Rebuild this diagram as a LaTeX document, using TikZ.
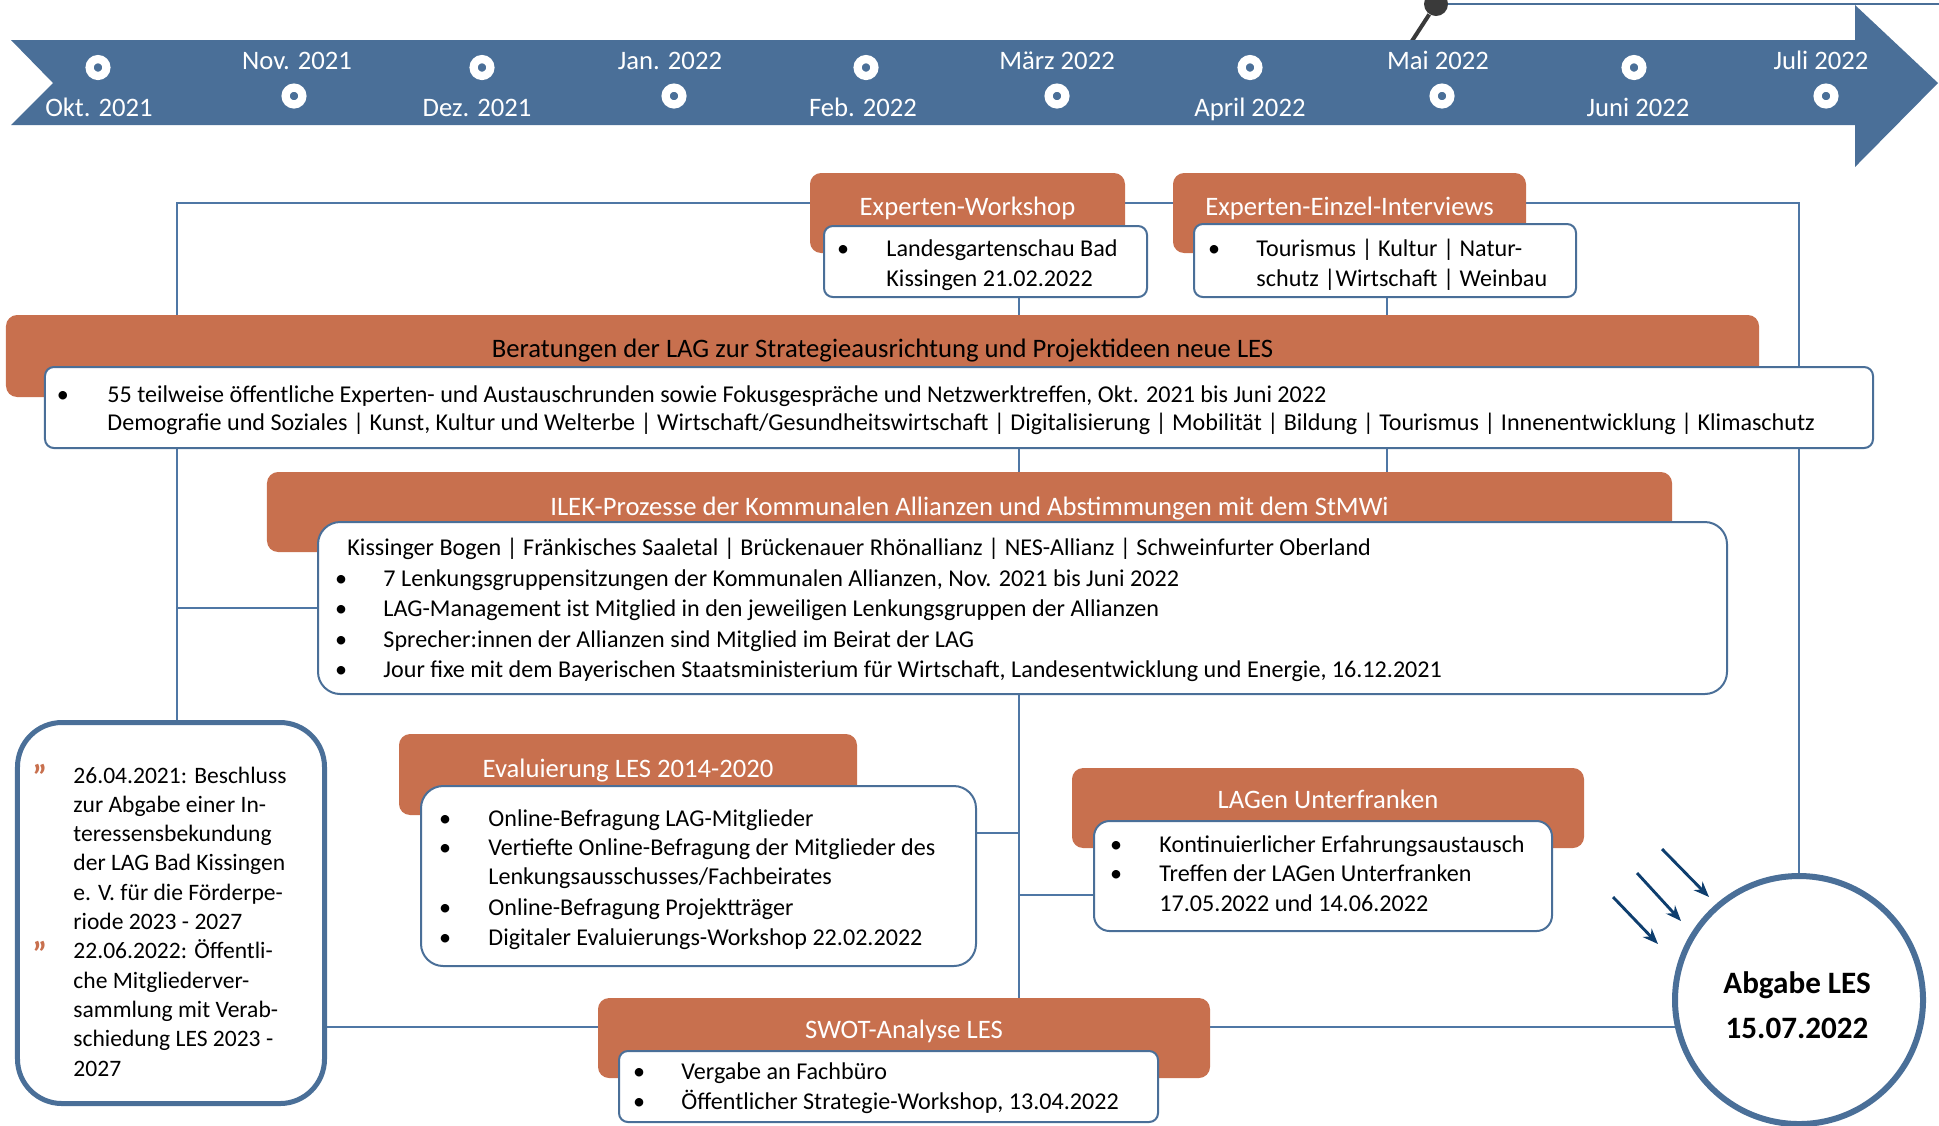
\documentclass[tikz,border=0pt]{standalone}
\usepackage{fontspec}
\setmainfont{Carlito}
\usetikzlibrary{arrows.meta}
\definecolor{band}{HTML}{4A6F98}
\definecolor{orng}{HTML}{C8704E}
\definecolor{lnk}{HTML}{4F77A5}
\definecolor{arr}{HTML}{0E3E6E}
\definecolor{pincol}{HTML}{3A3A3A}
\begin{document}
\begin{tikzpicture}[x=0.45pt,y=-0.45pt,
  obox/.style={fill=orng, rounded corners=5pt, inner sep=0pt, outer sep=0pt},
  wbox/.style={fill=white, draw=band, line width=0.9pt, rounded corners=4pt, inner sep=0pt, outer sep=0pt},
  conn/.style={draw=lnk, line width=0.65pt},
  ttl/.style={font=\fontsize{12}{14}\selectfont, text=white, inner sep=0pt, anchor=base},
  txt/.style={font=\fontsize{10.85}{13}\selectfont, inner sep=0pt, anchor=base west},
  ltxt/.style={font=\fontsize{10.6}{13}\selectfont, inner sep=0pt, anchor=base west},
  bul/.style={font=\fontsize{10.85}{13}\selectfont, inner sep=0pt, anchor=base},
  tlab/.style={font=\fontsize{12}{14}\selectfont, text=white, inner sep=0pt, anchor=base},
  mk/.style={circle, fill=band, draw=white, line width=3.7pt, minimum size=7.56pt, inner sep=0pt},
  qm/.style={font=\fontsize{15}{15}\selectfont\bfseries, text=orng, inner sep=0pt, anchor=base},
  arrw/.style={draw=arr, line width=1.3pt, -{Stealth[length=7pt,width=5.5pt]}}
]
\useasboundingbox (0,0) rectangle (1939,1125);

% ---------- pin at top right ----------
\coordinate (pinfoot) at (1410,44);
\coordinate (topend) at (1939,4);
\node[circle, fill=pincol, minimum size=10.8pt, inner sep=0pt] (pin) at (1436,4) {};
\draw[draw=band, line width=0.9pt] (pin) -- (topend);
\draw[draw=pincol, line width=1.8pt] (pinfoot) -- (pin);

% ---------- timeline band ----------
\fill[band] (11,40) -- (1855,40) -- (1855,5) -- (1938,83) -- (1855,167) -- (1855,125) -- (11,125) -- (53,83) -- cycle;

\node[mk] (m1) at (98,67.5) {};
\node[mk] (m2) at (294,96) {};
\node[mk] (m3) at (482,67.5) {};
\node[mk] (m4) at (674,96) {};
\node[mk] (m5) at (866,67.5) {};
\node[mk] (m6) at (1057,96) {};
\node[mk] (m7) at (1250,67.5) {};
\node[mk] (m8) at (1442,96) {};
\node[mk] (m9) at (1634,67.5) {};
\node[mk] (m10) at (1826,96) {};

\node[tlab] (l1) at (99,116.5) {Okt. 2021};
\node[tlab] (l2) at (297,69.5) {Nov. 2021};
\node[tlab] (l3) at (477,116.5) {Dez. 2021};
\node[tlab] (l4) at (670,69.5) {Jan. 2022};
\node[tlab] (l5) at (863,116.5) {Feb. 2022};
\node[tlab] (l6) at (1057,69.5) {März 2022};
\node[tlab] (l7) at (1250,116.5) {April 2022};
\node[tlab] (l8) at (1438,69.5) {Mai 2022};
\node[tlab] (l9) at (1638,116.5) {Juni 2022};
\node[tlab] (l10) at (1821,69.5) {Juli 2022};

% ---------- helper coordinates ----------
\coordinate (lv) at (177,203);
\coordinate (rv) at (1799,203);
\coordinate (mx) at (1019,0);
\coordinate (rx) at (1387,0);
\coordinate (ey) at (0,833);
\coordinate (ly) at (0,895);
\coordinate (sy) at (0,1027);

% invisible placement first so that connectors can use names
\path
  (967.5,213) node[obox, fill=none, minimum width=141.75pt, minimum height=36pt] (wsO) {}
  (985.5,261.5) node[wbox, draw=none, fill=none, minimum width=145.35pt, minimum height=31.95pt] (wsW) {}
  (1349.5,213) node[obox, fill=none, minimum width=158.85pt, minimum height=36pt] (ivO) {}
  (1385,260.5) node[wbox, draw=none, fill=none, minimum width=171.9pt, minimum height=32.85pt] (ivW) {}
  (882.5,356) node[obox, fill=none, minimum width=788.85pt, minimum height=36.9pt] (berO) {}
  (959,407.5) node[wbox, draw=none, fill=none, minimum width=822.6pt, minimum height=36.45pt] (berW) {}
  (969.5,512) node[obox, fill=none, minimum width=632.25pt, minimum height=36pt] (ilekO) {}
  (1022.5,608) node[wbox, draw=none, fill=none, minimum width=634.05pt, minimum height=77.4pt] (ilekW) {}
  (628,774.5) node[obox, fill=none, minimum width=206.1pt, minimum height=36.45pt] (evO) {}
  (698.5,876) node[wbox, draw=none, fill=none, minimum width=249.75pt, minimum height=81pt] (evW) {}
  (904,1038) node[obox, fill=none, minimum width=275.4pt, minimum height=36pt] (swO) {}
  (888.5,1086.5) node[wbox, draw=none, fill=none, minimum width=242.55pt, minimum height=31.95pt] (swW) {}
  (1328,808) node[obox, fill=none, minimum width=230.4pt, minimum height=36pt] (laO) {}
  (1323,876) node[wbox, draw=none, fill=none, minimum width=206.1pt, minimum height=49.5pt] (laW) {}
  (171,913) node[inner sep=0pt, outer sep=0pt, minimum width=138.15pt, minimum height=171.45pt] (lbox) {}
  (1799,1000) node[circle, inner sep=0pt, outer sep=0pt, minimum size=111.6pt] (circ) {};

% ---------- connectors ----------
\draw[conn] (lbox.north -| lv) -- (lv) -- (rv) -- (circ.center);
\draw[conn] (wsW.south -| mx) -- (swO.north -| mx);
\draw[conn] (ivW.south -| rx) -- (ilekO.north -| rx);
\draw[conn] (ilekW.west -| lv) -- (ilekW.west);
\draw[conn] (evW.east |- ey) -- (mx |- ey);
\draw[conn] (mx |- ly) -- (laW.west |- ly);
\draw[conn] (lbox.east |- sy) -- (swO.west |- sy);
\draw[conn] (swO.east |- sy) -- (circ.center |- sy);

% ---------- drawn boxes ----------
\node[obox, minimum width=141.75pt, minimum height=36pt] (wsOf) at (wsO) {};
\node[obox, minimum width=158.85pt, minimum height=36pt] (ivOf) at (ivO) {};
\node[obox, minimum width=788.85pt, minimum height=36.9pt] (berOf) at (berO) {};
\node[obox, minimum width=632.25pt, minimum height=36pt] (ilekOf) at (ilekO) {};
\node[obox, minimum width=206.1pt, minimum height=36.45pt] (evOf) at (evO) {};
\node[obox, minimum width=275.4pt, minimum height=36pt] (swOf) at (swO) {};
\node[obox, minimum width=230.4pt, minimum height=36pt] (laOf) at (laO) {};

\node[wbox, minimum width=145.35pt, minimum height=31.95pt] (wsWf) at (wsW) {};
\node[wbox, minimum width=171.9pt, minimum height=32.85pt] (ivWf) at (ivW) {};
\node[wbox, minimum width=822.6pt, minimum height=36.45pt] (berWf) at (berW) {};
\node[wbox, rounded corners=10pt, minimum width=634.05pt, minimum height=77.4pt] (ilekWf) at (ilekW) {};
\node[wbox, rounded corners=10pt, minimum width=249.75pt, minimum height=81pt] (evWf) at (evW) {};
\node[wbox, minimum width=242.55pt, minimum height=31.95pt] (swWf) at (swW) {};
\node[wbox, rounded corners=7pt, minimum width=206.1pt, minimum height=49.5pt] (laWf) at (laW) {};

\node[fill=white, draw=band, line width=2.25pt, rounded corners=20pt, inner sep=0pt, minimum width=138.15pt, minimum height=171.45pt] (lboxf) at (lbox) {};
\node[circle, fill=white, draw=band, line width=2.7pt, inner sep=0pt, minimum size=111.6pt] (circf) at (circ) {};

% ---------- titles ----------
\node[ttl] (tws) at (967.5,215) {Experten-Workshop};
\node[ttl] (tiv) at (1349.5,215) {Experten-Einzel-Interviews};
\node[ttl, text=black] (tber) at (882.5,357) {Beratungen der LAG zur Strategieausrichtung und Projektideen neue LES};
\node[ttl] (tilek) at (969.5,515) {ILEK-Prozesse der Kommunalen Allianzen und Abstimmungen mit dem StMWi};
\node[ttl] (tev) at (628,777) {Evaluierung LES 2014-2020};
\node[ttl] (tsw) at (904,1038) {SWOT-Analyse LES};
\node[ttl] (tla) at (1328,808) {LAGen Unterfranken};

% ---------- Experten-Workshop ----------
\node[bul] (bws) at (843,256) {•};
\node[txt] (ws1) at (886,256) {Landesgartenschau Bad};
\node[txt] (ws2) at (886,286) {Kissingen 21.02.2022};

% ---------- Interviews ----------
\node[bul] (biv) at (1214,256) {•};
\node[txt] (iv1) at (1256,256) {Tourismus | Kultur | Natur-};
\node[txt] (iv2) at (1256,286) {schutz |Wirtschaft | Weinbau};

% ---------- Beratungen ----------
\node[bul] (bber) at (63,402) {•};
\node[txt] (ber1) at (107,402) {55 teilweise öffentliche Experten- und Austauschrunden sowie Fokusgespräche und Netzwerktreffen, Okt. 2021 bis Juni 2022};
\node[txt] (ber2) at (107,430) {Demografie und Soziales | Kunst, Kultur und Welterbe | Wirtschaft/Gesundheitswirtschaft | Digitalisierung | Mobilität | Bildung | Tourismus | Innenentwicklung | Klimaschutz};

% ---------- ILEK ----------
\node[txt] (il0) at (347,555) {Kissinger Bogen | Fränkisches Saaletal | Brückenauer Rhönallianz | NES-Allianz | Schweinfurter Oberland};
\node[bul] (bil1) at (341,586) {•};
\node[txt] (il1) at (383,586) {7 Lenkungsgruppensitzungen der Kommunalen Allianzen, Nov. 2021 bis Juni 2022};
\node[bul] (bil2) at (341,616) {•};
\node[txt] (il2) at (383,616) {LAG-Management ist Mitglied in den jeweiligen Lenkungsgruppen der Allianzen};
\node[bul] (bil3) at (341,647) {•};
\node[txt] (il3) at (383,647) {Sprecher:innen der Allianzen sind Mitglied im Beirat der LAG};
\node[bul] (bil4) at (341,677) {•};
\node[txt] (il4) at (383,677) {Jour fixe mit dem Bayerischen Staatsministerium für Wirtschaft, Landesentwicklung und Energie, 16.12.2021};

% ---------- Evaluierung ----------
\node[bul] (bev1) at (445,826) {•};
\node[txt] (ev1) at (488,826) {Online-Befragung LAG-Mitglieder};
\node[bul] (bev2) at (445,855) {•};
\node[txt] (ev2) at (488,855) {Vertiefte Online-Befragung der Mitglieder des};
\node[txt] (ev2b) at (488,884) {Lenkungsausschusses/Fachbeirates};
\node[bul] (bev3) at (445,915) {•};
\node[txt] (ev3) at (488,915) {Online-Befragung Projektträger};
\node[bul] (bev4) at (445,945) {•};
\node[txt] (ev4) at (488,945) {Digitaler Evaluierungs-Workshop 22.02.2022};

% ---------- SWOT ----------
\node[bul] (bsw1) at (639,1079) {•};
\node[txt] (sw1) at (681,1079) {Vergabe an Fachbüro};
\node[bul] (bsw2) at (639,1109) {•};
\node[txt] (sw2) at (681,1109) {Öffentlicher Strategie-Workshop, 13.04.2022};

% ---------- LAGen ----------
\node[bul] (bla1) at (1116,852) {•};
\node[txt] (la1) at (1159,852) {Kontinuierlicher Erfahrungsaustausch};
\node[bul] (bla2) at (1116,881) {•};
\node[txt] (la2) at (1159,881) {Treffen der LAGen Unterfranken};
\node[txt] (la2b) at (1159,911) {17.05.2022 und 14.06.2022};

% ---------- left box ----------
\node[qm] (q1) at (40,788) {”};
\node[qm] (q2) at (40,965) {”};
\foreach \t [count=\i from 0] in {26.04.2021: Beschluss, zur Abgabe einer In-, teressensbekundung, der LAG Bad Kissingen, e. V. für die Förderpe-, riode 2023 - 2027, 22.06.2022: Öffentli-, che Mitgliederver-, sammlung mit Verab-, schiedung LES 2023 -, 2027}
  \node[ltxt] (lt\i) at (73,783+29.3*\i) {\t};

% ---------- Abgabe ----------
\node[font=\fontsize{14}{16}\selectfont\bfseries, inner sep=0pt, anchor=base] (ab1) at (1797,993.5) {Abgabe LES};
\node[font=\fontsize{14}{16}\selectfont\bfseries, inner sep=0pt, anchor=base] (ab2) at (1797,1038.5) {15.07.2022};

% ---------- arrows ----------
\coordinate (a1s) at (1662,849); \coordinate (a1e) at (1709,897);
\coordinate (a2s) at (1637,873); \coordinate (a2e) at (1681,921);
\coordinate (a3s) at (1613,897); \coordinate (a3e) at (1658,944);
\draw[arrw] (a1s) -- (a1e);
\draw[arrw] (a2s) -- (a2e);
\draw[arrw] (a3s) -- (a3e);
\end{tikzpicture}
\end{document}
